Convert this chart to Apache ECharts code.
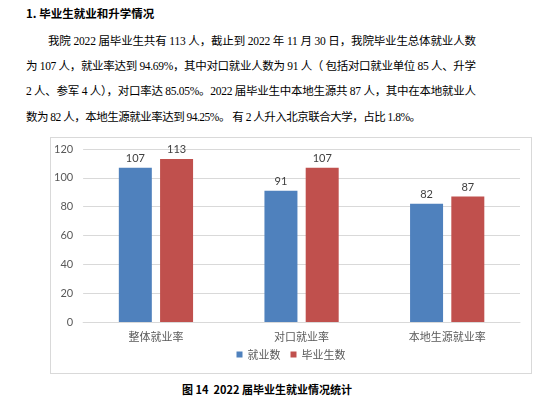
<!DOCTYPE html>
<html lang="zh">
<head>
<meta charset="UTF-8">
<title>2022届毕业生就业情况统计</title>
<script src="https://cdn.jsdelivr.net/npm/echarts@6/dist/echarts.min.js"></script>
<style>
    body { margin: 0; width: 557px; height: 399px; background: #fff; position: relative; overflow: hidden;
           font-family: "Liberation Serif", "Noto Sans CJK SC", serif; color: #000; }
    .line { position: absolute; height: 20px; line-height: 20px; font-size: 11.5px; white-space: pre; }
    .title { position: absolute; left: 26px; top: 5px; font-size: 11.5px; font-weight: bold;
             font-family: "Noto Sans CJK SC", sans-serif; }
    #box { position: absolute; left: 50px; top: 137px; width: 480px; height: 235px; border: 1px solid #d9d9d9; }
    #main { width: 480px; height: 235px; }
    .caption { position: absolute; left: 0; width: 534px; top: 381px; text-align: center; font-size: 11px;
               font-weight: bold; font-family: "Noto Sans CJK SC", sans-serif; }
</style>
</head>
<body>
<div class="title">1. 毕业生就业和升学情况</div>
<div class="line" data-w="428" style="left:48px;top:31px">我院 2022 届毕业生共有 113 人，截止到 2022 年 11 月 30 日，我院毕业生总体就业人数</div>
<div class="line" data-w="450" style="left:26px;top:56px">为 107 人，就业率达到 94.69%，其中对口就业人数为 91 人（ 包括对口就业单位 85 人、升学</div>
<div class="line" data-w="450" style="left:26px;top:81px">2 人、参军 4 人），对口率达 85.05%。2022 届毕业生中本地生源共 87 人，其中在本地就业人</div>
<div class="line" data-w="395" style="left:26px;top:107px">数为 82 人，本地生源就业率达到 94.25%。 有 2 人升入北京联合大学，占比 1.8%。</div>

<div id="box"><div id="main"></div></div>
<div class="caption">图 14&nbsp; 2022 届毕业生就业情况统计</div>

<script type="text/javascript">
    // 段落每行撑满到原图宽度
    document.querySelectorAll('.line').forEach(function (el) {
        var target = +el.getAttribute('data-w');
        var n = el.textContent.length - 1;
        var natural = el.getBoundingClientRect().width;
        el.style.letterSpacing = ((target - natural) / n) + 'px';
    });

    // 数据
    var categories = ['整体就业率', '对口就业率', '本地生源就业率'];
    var employed = [107, 91, 82];
    var graduates = [113, 107, 87];
    var seriesNames = ['就业数', '毕业生数'];

    var myChart = echarts.init(document.getElementById('main'));
    var labelStyle = {
        show: true,
        position: 'top',
        distance: 4,
        color: '#404040',
        fontSize: 11,
        fontFamily: 'Lato, "Liberation Sans", sans-serif'
    };
    var option = {
        animation: false,
        grid: { left: 32, right: 11, top: 11, bottom: 51 },
        legend: {
            data: seriesNames,
            bottom: 8,
            left: 'center',
            itemWidth: 6,
            itemHeight: 6,
            itemGap: 10,
            icon: 'rect',
            textStyle: { color: '#595959', fontSize: 11, fontFamily: '"Noto Sans CJK SC", sans-serif' }
        },
        xAxis: {
            type: 'category',
            data: categories,
            axisLine: { lineStyle: { color: '#d9d9d9' } },
            axisTick: { show: false },
            axisLabel: { color: '#595959', fontSize: 11, margin: 9, fontFamily: '"Noto Sans CJK SC", sans-serif' }
        },
        yAxis: {
            type: 'value',
            min: 0,
            max: 120,
            interval: 20,
            axisLine: { show: false },
            axisTick: { show: false },
            axisLabel: { color: '#595959', fontSize: 11, margin: 10, fontFamily: 'Lato, "Liberation Sans", sans-serif' },
            splitLine: { lineStyle: { color: '#d9d9d9' } }
        },
        series: [
            {
                name: seriesNames[0],
                type: 'bar',
                data: employed,
                barWidth: 33,
                barGap: '25%',
                itemStyle: { color: '#4f81bd' },
                label: labelStyle
            },
            {
                name: seriesNames[1],
                type: 'bar',
                data: graduates,
                barWidth: 33,
                itemStyle: { color: '#c0504d' },
                label: labelStyle
            }
        ]
    };
    option && myChart.setOption(option);
</script>
</body>
</html>
